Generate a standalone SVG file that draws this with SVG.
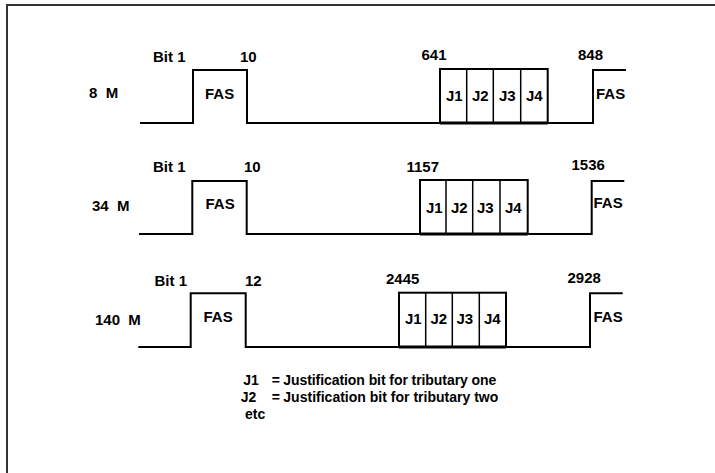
<svg xmlns="http://www.w3.org/2000/svg" width="715" height="473" viewBox="0 0 715 473">
<style>
  text { font-family: "Liberation Sans", Arial, sans-serif; font-weight: bold; fill: #000; white-space: pre; }
  .lbl { font-size: 15px; }
  .leg { font-size: 14px; }
  .sig { fill: none; stroke: #000; stroke-width: 2; }
  .jbox { fill: #fff; stroke: #000; stroke-width: 2; }
  .div { stroke: #000; stroke-width: 1.5; }
  .frame { stroke: #333; stroke-width: 2; fill: none; }
</style>
<rect x="0" y="0" width="715" height="473" fill="#fff"/>
<path class="frame" d="M7,473 V5 H715"/>

<g id="connectors">
  <path class="sig" d="M140,123 H193 V70 H247 V123 H593 V70 H626"/>
  <path class="sig" d="M139,234 H192.3 V181 H246.7 V234 H591.7 V181 H624.3"/>
  <path class="sig" d="M138.3,347 H190.7 V293.3 H245.7 V347 H590 V293.3 H622.7"/>
</g>

<g id="row-8M">
  <text class="lbl" x="89" y="98">8  M</text>
  <text class="lbl" x="153" y="61.5">Bit 1</text>
  <text class="lbl" x="240" y="61.5">10</text>
  <text class="lbl" x="205" y="99">FAS</text>
  <text class="lbl" x="421.5" y="59.5">641</text>
  <text class="lbl" x="578" y="59.5">848</text>
  <g id="j-8M">
    <rect class="jbox" x="440" y="69" width="107.7" height="54"/>
    <line class="div" x1="466.7" y1="69" x2="466.7" y2="123"/>
    <line class="div" x1="493.3" y1="69" x2="493.3" y2="123"/>
    <line class="div" x1="520.7" y1="69" x2="520.7" y2="123"/>
    <line stroke="#000" stroke-width="3" x1="440" y1="123" x2="547.7" y2="123"/>
    <text class="lbl" x="446" y="101">J1</text>
    <text class="lbl" x="472" y="101">J2</text>
    <text class="lbl" x="499" y="101">J3</text>
    <text class="lbl" x="526" y="101">J4</text>
  </g>
  <text class="lbl" x="596" y="98.5">FAS</text>
</g>

<g id="row-34M">
  <text class="lbl" x="92" y="210.5">34  M</text>
  <text class="lbl" x="153" y="171.5">Bit 1</text>
  <text class="lbl" x="244" y="171.5">10</text>
  <text class="lbl" x="205.5" y="209">FAS</text>
  <text class="lbl" x="406.5" y="171.5">1157</text>
  <text class="lbl" x="571.5" y="169.5">1536</text>
  <g id="j-34M">
    <rect class="jbox" x="420" y="180" width="107.7" height="54"/>
    <line class="div" x1="446" y1="180" x2="446" y2="234"/>
    <line class="div" x1="472.7" y1="180" x2="472.7" y2="234"/>
    <line class="div" x1="500" y1="180" x2="500" y2="234"/>
    <line stroke="#000" stroke-width="3" x1="420" y1="234" x2="527.7" y2="234"/>
    <text class="lbl" x="426" y="212.5">J1</text>
    <text class="lbl" x="451" y="212.5">J2</text>
    <text class="lbl" x="477" y="212.5">J3</text>
    <text class="lbl" x="505" y="212.5">J4</text>
  </g>
  <text class="lbl" x="593.5" y="208">FAS</text>
</g>

<g id="row-140M">
  <text class="lbl" x="95" y="325">140  M</text>
  <text class="lbl" x="154.5" y="285.5">Bit 1</text>
  <text class="lbl" x="245" y="285.5">12</text>
  <text class="lbl" x="203.5" y="322">FAS</text>
  <text class="lbl" x="386" y="283.5">2445</text>
  <text class="lbl" x="567.5" y="282.5">2928</text>
  <g id="j-140M">
    <rect class="jbox" x="399" y="292.7" width="107" height="54.3"/>
    <line class="div" x1="425.7" y1="292.7" x2="425.7" y2="347"/>
    <line class="div" x1="452.3" y1="292.7" x2="452.3" y2="347"/>
    <line class="div" x1="479.3" y1="292.7" x2="479.3" y2="347"/>
    <line stroke="#000" stroke-width="3" x1="399" y1="347" x2="506" y2="347"/>
    <text class="lbl" x="405" y="324">J1</text>
    <text class="lbl" x="430.5" y="324">J2</text>
    <text class="lbl" x="456.5" y="324">J3</text>
    <text class="lbl" x="484" y="324">J4</text>
  </g>
  <text class="lbl" x="593.5" y="321.5">FAS</text>
</g>

<g id="legend">
  <text class="leg" x="243.3" y="385">J1</text>
  <text class="leg" x="271.7" y="385">=</text>
  <text class="leg" x="283.3" y="385" textLength="213" lengthAdjust="spacing">Justification bit for tributary one</text>
  <text class="leg" x="240.7" y="402">J2</text>
  <text class="leg" x="271.7" y="402">=</text>
  <text class="leg" x="283.3" y="402" textLength="215" lengthAdjust="spacing">Justification bit for tributary two</text>
  <text class="leg" x="245" y="419">etc</text>
</g>
</svg>
